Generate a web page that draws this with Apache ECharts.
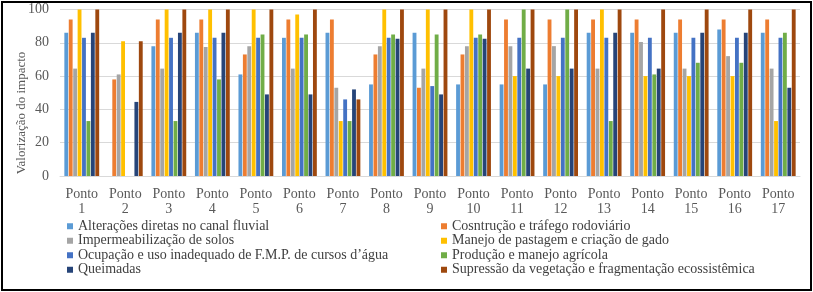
<!DOCTYPE html>
<html>
<head>
<meta charset="utf-8">
<script src="https://cdn.jsdelivr.net/npm/echarts@6/dist/echarts.min.js"></script>
<style>
  html, body { margin: 0; padding: 0; background: #fff; }
  #frame { position: absolute; left: 1px; top: 1px; width: 807px; height: 286px; border: 2px solid #000; }
  #myChart { position: absolute; left: 0; top: 0; width: 813px; height: 292px; }
</style>
</head>
<body>
<div id="myChart"></div>
<div id="frame"></div>
<script>
const categories = ['Ponto 1', 'Ponto 2', 'Ponto 3', 'Ponto 4', 'Ponto 5', 'Ponto 6', 'Ponto 7', 'Ponto 8', 'Ponto 9',
  'Ponto 10', 'Ponto 11', 'Ponto 12', 'Ponto 13', 'Ponto 14', 'Ponto 15', 'Ponto 16', 'Ponto 17']

const seriesNames = [
  'Alterações diretas no canal fluvial',
  'Cosntrução e tráfego rodoviário',
  'Impermeabilização de solos',
  'Manejo de pastagem e criação de gado',
  'Ocupação e uso inadequado de F.M.P. de cursos d’água',
  'Produção e manejo agrícola',
  'Queimadas',
  'Supressão da vegetação e fragmentação ecossistêmica'
]

const alteracoes = [86, 0, 78, 86, 61, 83, 86, 55, 86, 55, 55, 55, 86, 86, 86, 88, 86]
const construcao = [94, 58, 94, 94, 73, 94, 94, 73, 53, 73, 94, 94, 94, 94, 94, 94, 94]
const impermeabilizacao = [64.5, 61, 64.5, 77.5, 78, 64.5, 53, 78, 64.5, 78, 78, 78, 64.5, 80.5, 64.5, 72, 64.5]
const manejo = [100, 81, 100, 100, 100, 97, 33, 100, 100, 100, 60, 60, 100, 60, 60, 60, 33]
const ocupacao = [83, 0, 83, 83, 83, 83, 46, 83, 54, 83, 83, 83, 83, 83, 83, 83, 83]
const producao = [33, 0, 33, 58, 85, 85, 33, 85, 85, 85, 100, 100, 33, 61, 68, 68, 86]
const queimadas = [86, 44.5, 86, 86, 49, 49, 52, 82.5, 49, 82.5, 64.5, 64.5, 86, 64.5, 86, 86, 53]
const supressao = [100, 81, 100, 100, 100, 100, 46, 100, 100, 100, 100, 100, 100, 100, 100, 100, 100]

const yTicks = { min: 0, max: 100, interval: 20 }
const yTitle = 'Valorização do impacto'

const seriesData = [alteracoes, construcao, impermeabilizacao, manejo, ocupacao, producao, queimadas, supressao]
const colors = ['#5B9BD5', '#ED7D31', '#A5A5A5', '#FFC000', '#4472C4', '#70AD47', '#264478', '#9E480E']

const serif = "'Times New Roman', 'Liberation Serif', serif"

const myChart = echarts.init(document.getElementById('myChart'))

const legendBase = {
  orient: 'vertical',
  top: 219,
  padding: 0,
  itemWidth: 6,
  itemHeight: 6,
  itemGap: 0,
  icon: 'rect',
  textStyle: { fontFamily: serif, fontSize: 14, lineHeight: 14.5, color: '#404040' }
}

myChart.setOption({
  animation: false,
  color: colors,
  legend: [
    Object.assign({}, legendBase, { left: 67, data: [seriesNames[0], seriesNames[2], seriesNames[4], seriesNames[6]] }),
    Object.assign({}, legendBase, { left: 441, data: [seriesNames[1], seriesNames[3], seriesNames[5], seriesNames[7]] })
  ],
  // axis title placed by hand, Excel centres it lower than the plot middle
  graphic: [{
    type: 'text',
    x: 22,
    y: 113,
    rotation: Math.PI / 2,
    style: {
      text: yTitle,
      fontFamily: serif,
      fontSize: 13,
      fill: '#595959',
      align: 'center',
      verticalAlign: 'middle'
    }
  }],
  grid: { left: 60, right: 13, top: 9.5, bottom: 116 },
  xAxis: {
    type: 'category',
    data: categories,
    axisLine: { lineStyle: { color: '#d9d9d9' } },
    axisTick: { show: false },
    axisLabel: {
      interval: 0,
      margin: 11,
      fontFamily: serif,
      fontSize: 14,
      lineHeight: 15,
      color: '#595959',
      formatter: v => v.replace(' ', '\n')
    }
  },
  yAxis: {
    type: 'value',
    min: yTicks.min,
    max: yTicks.max,
    interval: yTicks.interval,
    axisLine: { show: false },
    axisTick: { show: false },
    axisLabel: { margin: 11, fontFamily: serif, fontSize: 14, color: '#595959' },
    splitLine: { lineStyle: { color: '#d9d9d9' } }
  },
  series: seriesData.map((d, i) => ({
    name: seriesNames[i],
    type: 'bar',
    data: d,
    barGap: '15%',
    barCategoryGap: '20%'
  }))
})
</script>
</body>
</html>
